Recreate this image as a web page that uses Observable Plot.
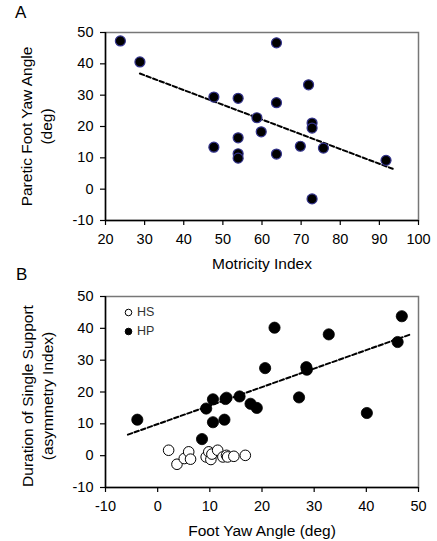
<!DOCTYPE html>
<html><head><meta charset="utf-8">
<script src="https://cdn.jsdelivr.net/npm/d3@7"></script>
<script src="https://cdn.jsdelivr.net/npm/@observablehq/plot@0.6"></script>
<style>
body{margin:0;background:#fff;font-family:"Liberation Sans",Arial,sans-serif;}
#wrap{position:relative;width:437px;}
.panel{position:absolute;font-size:17px;color:#000;}
.leg{position:absolute;font-size:12.5px;color:#333;display:flex;align-items:center;gap:4px;}
</style></head>
<body><div id="wrap"></div>
<script>
// Panel A: Motricity Index vs Paretic Foot Yaw Angle
const aMotricity = [23.8, 28.8, 47.7, 47.7, 53.9, 53.9, 53.9, 53.9, 58.7, 59.8, 63.7, 63.7, 63.7, 69.8, 71.9, 72.8, 72.8, 72.8, 75.7, 91.7];
const aYaw       = [47.3, 40.6, 29.4, 13.4, 29.0, 16.4, 11.3, 9.9, 22.8, 18.3, 46.7, 27.6, 11.2, 13.7, 33.3, 21.1, 19.5, -3.1, 13.1, 9.2];
const aTrendX = [28.8, 93.4];
const aTrendY = [36.9, 6.5];
const aXTicks = [20, 30, 40, 50, 60, 70, 80, 90, 100];
const aYTicks = [-10, 0, 10, 20, 30, 40, 50];

// Panel B: Foot Yaw Angle vs Duration of Single Support asymmetry
const hpYaw  = [-3.9, 8.5, 9.3, 10.6, 10.6, 12.8, 13.0, 13.2, 15.7, 17.8, 19.0, 20.6, 22.4, 27.1, 28.5, 28.6, 32.8, 40.1, 46.0, 46.8];
const hpDur  = [11.3, 5.2, 14.8, 17.7, 10.5, 11.3, 17.8, 18.2, 18.6, 16.3, 15.0, 27.5, 40.2, 18.3, 27.8, 27.0, 38.1, 13.4, 35.7, 43.8];
const hsYaw  = [2.1, 3.7, 5.1, 5.95, 6.3, 9.3, 9.8, 10.2, 10.4, 11.5, 12.5, 13.2, 13.4, 14.6, 16.8];
const hsDur  = [1.7, -2.7, -0.9, 1.2, -1.1, -0.4, 1.2, -1.2, 0.5, 1.7, -0.4, 0.1, -0.4, -0.2, 0.1];
const bTrendX = [-5.7, 48.3];
const bTrendY = [6.6, 38.0];
const bXTicks = [-10, 0, 10, 20, 30, 40, 50];
const bYTicks = [-10, 0, 10, 20, 30, 40, 50];
const legendLabels = ["HS", "HP"];

const FONT = '"Liberation Sans", Arial, sans-serif';
const A = aMotricity.map((x, i) => ({x, y: aYaw[i]}));
const aTrend = aTrendX.map((x, i) => ({x, y: aTrendY[i]}));
const HP = hpYaw.map((x, i) => ({x, y: hpDur[i]}));
const HS = hsYaw.map((x, i) => ({x, y: hsDur[i]}));
const bTrend = bTrendX.map((x, i) => ({x, y: bTrendY[i]}));
const fmt = d => String(d);

function axes(xTicks, yTicks, xmin, ymin) {
  return [
    Plot.frame({stroke: "#777", strokeWidth: 1.5}),
    Plot.ruleX([xmin], {stroke: "#000", strokeWidth: 1.5}),
    Plot.ruleY([ymin], {stroke: "#000", strokeWidth: 1.5}),
    Plot.axisX(xTicks, {tickSize: 5, tickPadding: 8, fontSize: 14.5, label: null, tickFormat: fmt, stroke: "#000", strokeWidth: 1.2, color: "#000"}),
    Plot.axisY(yTicks, {tickSize: 5, tickPadding: 7, fontSize: 14.5, label: null, tickFormat: fmt, stroke: "#000", strokeWidth: 1.2, color: "#000"})
  ];
}

const plotA = Plot.plot({
  width: 437, height: 270,
  marginLeft: 105, marginRight: 19, marginTop: 32, marginBottom: 50,
  style: {fontFamily: FONT, color: "#000", background: "#fff", overflow: "visible"},
  x: {domain: [20, 100]},
  y: {domain: [-10, 50]},
  marks: [
    ...axes(aXTicks, aYTicks, 20, -10),
    Plot.line(aTrend, {x: "x", y: "y", stroke: "#000", strokeWidth: 2, strokeDasharray: "4.5,2.5"}),
    Plot.dot(A, {x: "x", y: "y", r: 5, fill: "#000", stroke: "#34348c", strokeWidth: 1.2}),
    Plot.text(["Motricity Index"], {frameAnchor: "bottom", dy: 44, fontSize: 15.5, lineAnchor: "middle", fill: "#000"}),
    Plot.text(["Paretic Foot Yaw Angle\n(deg)"], {frameAnchor: "left", dx: -70, rotate: -90, textAnchor: "middle", fontSize: 15.5, lineHeight: 1.3, lineAnchor: "middle", fill: "#000"})
  ]
});

const plotB = Plot.plot({
  width: 437, height: 271,
  marginLeft: 105, marginRight: 19, marginTop: 26, marginBottom: 54,
  style: {fontFamily: FONT, color: "#000", background: "#fff", overflow: "visible"},
  x: {domain: [-10, 50]},
  y: {domain: [-10, 50]},
  marks: [
    ...axes(bXTicks, bYTicks, -10, -10),
    Plot.line(bTrend, {x: "x", y: "y", stroke: "#000", strokeWidth: 2, strokeDasharray: "4.5,2.5"}),
    Plot.dot(HS, {x: "x", y: "y", r: 5.3, fill: "#fff", stroke: "#000", strokeWidth: 1}),
    Plot.dot(HP, {x: "x", y: "y", r: 5.6, fill: "#000", stroke: "#000", strokeWidth: 0.8}),
    Plot.text(["Foot Yaw Angle (deg)"], {frameAnchor: "bottom", dy: 44, fontSize: 15.5, lineAnchor: "middle", fill: "#000"}),
    Plot.text(["Duration of Single Support\n(asymmetry Index)"], {frameAnchor: "left", dx: -69, dy: 4, rotate: -90, textAnchor: "middle", fontSize: 15.5, lineHeight: 1.3, lineAnchor: "middle", fill: "#000"})
  ]
});

const wrap = document.getElementById("wrap");
plotA.style.display = "block";
plotB.style.display = "block";
wrap.appendChild(plotA);
wrap.appendChild(plotB);

function addPanelLabel(t, left, top) {
  const d = document.createElement("div");
  d.className = "panel"; d.textContent = t;
  d.style.left = left + "px"; d.style.top = top + "px";
  wrap.appendChild(d);
}
addPanelLabel("A", 15, 3);
addPanelLabel("B", 16, 265);

legendLabels.forEach((lab, i) => {
  const d = document.createElement("div");
  d.className = "leg";
  d.style.left = "124px"; d.style.top = (305 + i * 19) + "px";
  const filled = lab === "HP";
  d.innerHTML = `<svg width="9" height="9"><circle cx="4.5" cy="4.5" r="3.3" fill="${filled ? "#000" : "#fff"}" stroke="#000" stroke-width="1"/></svg><span>${lab}</span>`;
  wrap.appendChild(d);
});
</script></body></html>
